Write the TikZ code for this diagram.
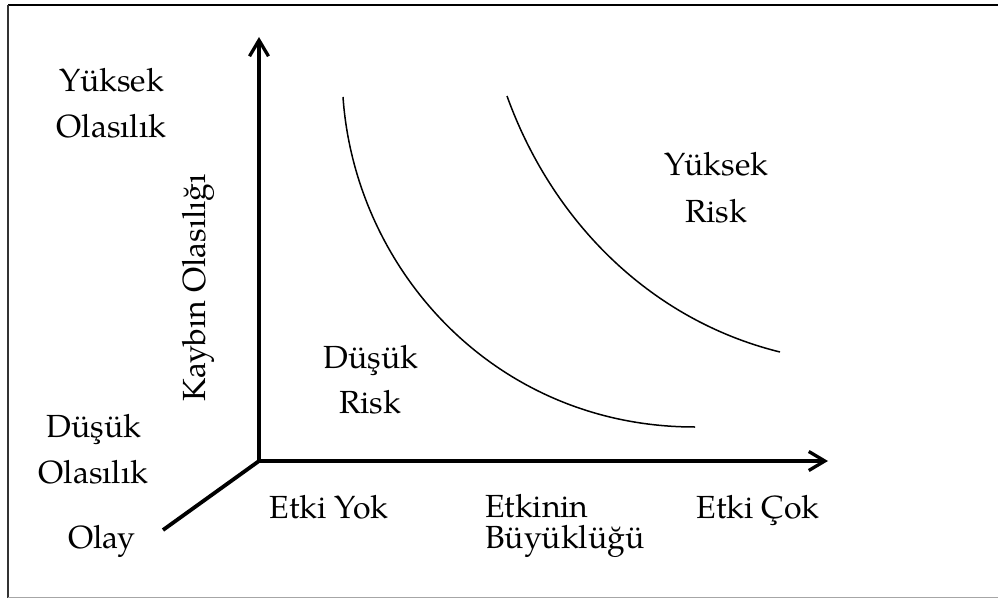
\documentclass[tikz,border=0pt]{standalone}
\usepackage{fontspec}
\setmainfont{TeX Gyre Pagella}
\usetikzlibrary{arrows.meta}

\begin{document}
\begin{tikzpicture}[x=1pt, y=-1pt,
  axis/.style={line width=3.3pt, -{Straight Barb[length=16pt, width=19pt]}},
  depth/.style={line width=3.8pt},
  riskcurve/.style={line width=1.5pt},
  lbl/.style={font=\fontsize{32}{38}\selectfont, inner sep=0pt, anchor=base},
  lblw/.style={lbl, anchor=base west}]
  \useasboundingbox (0,0) rectangle (998,599);

  % frame
  \draw[line width=2pt] (1010,5.5) -- (8,5.5);
  \draw[line width=1.5pt, black!80] (8,5) -- (8,597.5);
  \draw[line width=1pt, black!35] (8,597.5) -- (1010,597.5);

  % axes
  \coordinate (O) at (259,461);
  \coordinate (ytip) at (259,37);
  \coordinate (xtip) at (828,461);
  \coordinate (ztip) at (163,530);
  \draw[axis] (O) -- (ytip);
  \draw[axis] (O) -- (xtip);
  \draw[depth] (O) -- (ztip);

  % iso-risk curves
  \coordinate (lowA) at (343,97);
  \coordinate (lowB) at (695,427);
  \coordinate (highA) at (507,96);
  \coordinate (highB) at (780,352);
  \draw[riskcurve] (lowA) .. controls (355,270) and (495,427) .. (lowB);
  \draw[riskcurve] (highA) .. controls (552,221) and (650,320) .. (highB);

  % vertical axis labels
  \node[lbl] (yk1) at (112,92) {Yüksek};
  \node[lbl] (yk2) at (111.5,138) {Olasılık};
  \node[lbl] (dk1) at (94,437) {Düşük};
  \node[lbl] (dk2) at (93.5,483) {Olasılık};
  \node[lbl, rotate=90] (ytitle) at (205,288) {Kaybın Olasılığı};
  \node[lbl] (olay) at (102,548) {Olay};

  % horizontal axis labels
  \node[lbl] (ey) at (329,518) {Etki Yok};
  \node[lblw] (eb1) at (485,517) {Etkinin};
  \node[lblw] (eb2) at (485,548) {Büyüklüğü};
  \node[lbl] (ec) at (758,518) {Etki Çok};

  % region labels
  \node[lbl] (dr1) at (371,368) {Düşük};
  \node[lbl] (dr2) at (370,413) {Risk};
  \node[lbl] (yr1) at (716.5,175) {Yüksek};
  \node[lbl] (yr2) at (716,222) {Risk};
\end{tikzpicture}
\end{document}
